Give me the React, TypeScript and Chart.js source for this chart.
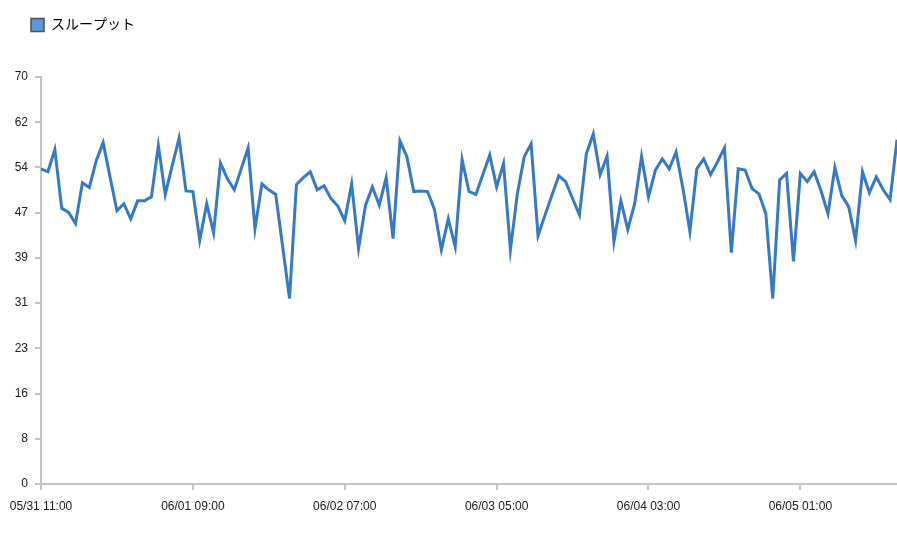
import React, { useEffect, useRef } from "react";
import { Chart, registerables } from "chart.js";

Chart.register(...registerables);

const seriesName = "スループット";
const dayLabels = ["05/31", "06/01", "06/02", "06/03", "06/04", "06/05"];
const startHour = 11;
const tickEvery = 22;
const yTicks = [0, 8, 16, 23, 31, 39, 47, 54, 62, 70];

const throughput = [
  54.2, 53.7, 57.5, 47.4, 46.7, 44.8, 51.8, 51.0, 55.6, 58.7,
  52.8, 47.0, 48.2, 45.6, 48.7, 48.7, 49.4, 58.2, 49.8, 54.7,
  59.5, 50.4, 50.3, 41.9, 48.2, 43.2, 55.2, 52.5, 50.6, 54.2,
  57.8, 43.9, 51.6, 50.6, 49.8, 40.9, 31.9, 51.5, 52.7, 53.7,
  50.6, 51.3, 49.1, 47.8, 45.3, 51.6, 40.5, 47.9, 51.1, 48.0,
  52.7, 42.2, 59.0, 56.3, 50.3, 50.4, 50.3, 47.2, 40.3, 45.6,
  40.8, 55.8, 50.3, 49.8, 53.2, 56.6, 51.1, 55.1, 40.3, 49.9,
  56.3, 58.5, 42.7, 46.2, 49.6, 53.0, 52.0, 49.1, 46.3, 56.8,
  60.2, 53.2, 56.4, 41.7, 48.7, 43.8, 48.2, 56.3, 49.4, 54.0,
  55.9, 54.2, 57.1, 50.8, 43.4, 54.2, 55.9, 53.2, 55.4, 57.8,
  39.8, 54.2, 54.0, 50.8, 49.9, 46.5, 31.9, 52.3, 53.4, 38.3,
  53.4, 52.0, 53.7, 50.4, 46.5, 54.4, 49.6, 47.7, 41.9, 53.7,
  50.1, 52.8, 50.6, 48.9, 59.2,
];

const labels = throughput.map((_, i) => {
  const h = startHour + i;
  const d = Math.floor(h / 24);
  const hh = String(h % 24).padStart(2, "0");
  return `${dayLabels[d]} ${hh}:00`;
});

const FONT = "'Liberation Sans', Arial, 'Noto Sans CJK JP', sans-serif";
const AXIS_COLOR = "#c4c4c4";
const LINE_COLOR = "#3579c7";

export default function App() {
  const ref = useRef<HTMLCanvasElement | null>(null);

  useEffect(() => {
    if (!ref.current) return;
    const legendMargin = {
      id: "legendMargin",
      beforeInit(chart: any) {
        const orig = chart.legend.fit;
        chart.legend.fit = function () {
          orig.bind(chart.legend)();
          this.height += 35;
        };
      },
      afterLayout(chart: any) {
        chart.legend.left += 21;
      },
    };
    const chart = new Chart(ref.current, {
      type: "line",
      data: {
        labels,
        datasets: [
          {
            label: seriesName,
            data: throughput,
            borderColor: LINE_COLOR,
            backgroundColor: "#5b97d8",
            borderWidth: 3,
            pointRadius: 0,
            tension: 0,
            fill: false,
          },
        ],
      },
      options: {
        responsive: false,
        animation: false,
        layout: { padding: { left: 0, top: 8, right: 0, bottom: 0 } },
        plugins: {
          tooltip: { enabled: false },
          legend: {
            position: "top",
            align: "start",
            labels: {
              boxWidth: 13,
              boxHeight: 13,
              padding: 10,
              color: "#222",
              font: { family: FONT, size: 14 },
              generateLabels: () => [
                {
                  text: seriesName,
                  fillStyle: "#5b97d8",
                  strokeStyle: "#505050",
                  lineWidth: 1.5,
                  hidden: false,
                  datasetIndex: 0,
                },
              ],
            },
          },
        },
        scales: {
          x: {
            type: "category",
            offset: false,
            border: { display: true, color: AXIS_COLOR, width: 2 },
            grid: {
              display: true,
              drawOnChartArea: false,
              drawTicks: true,
              tickLength: 6,
              color: AXIS_COLOR,
              lineWidth: 2,
            },
            ticks: {
              autoSkip: false,
              maxRotation: 0,
              minRotation: 0,
              padding: 9,
              color: "#222",
              font: { family: FONT, size: 12 },
              callback: (_v: any, i: number) =>
                i % tickEvery === 0 ? labels[i] : null,
            },
            afterFit: (s: any) => {
              s.height = 70;
            },
          },
          y: {
            min: 0,
            max: 70,
            border: { display: true, color: AXIS_COLOR, width: 2 },
            grid: {
              display: true,
              drawOnChartArea: false,
              drawTicks: true,
              tickLength: 6,
              color: AXIS_COLOR,
              lineWidth: 2,
            },
            afterBuildTicks: (s: any) => {
              s.ticks = yTicks.map((_, k) => ({ value: (70 * k) / 9 }));
            },
            ticks: {
              padding: 7,
              color: "#222",
              font: { family: FONT, size: 12 },
              callback: (v: any) => String(Math.round(Number(v))),
            },
            afterFit: (s: any) => {
              s.width = 41;
            },
          },
        },
      },
      plugins: [legendMargin],
    });
    return () => chart.destroy();
  }, []);

  return (
    <div style={{ position: "absolute", left: 0, top: 0, width: 897, height: 554, background: "#fff" }}>
      <canvas ref={ref} width={897} height={554} style={{ display: "block" }} />
    </div>
  );
}
